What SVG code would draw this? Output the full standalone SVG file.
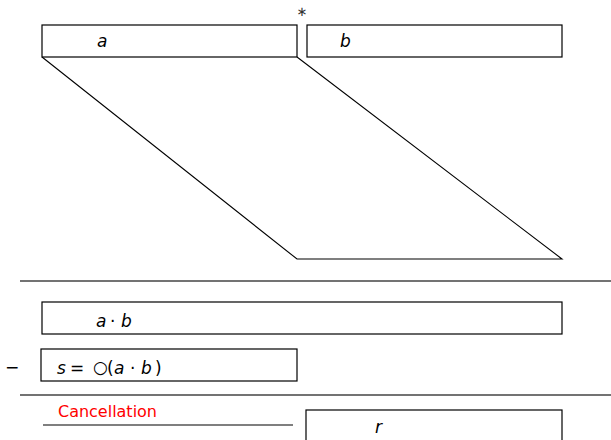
<svg xmlns="http://www.w3.org/2000/svg" width="611" height="440" viewBox="0 0 611 440">
  <style>
    .box { fill: #fff; stroke: #000; stroke-width: 1.2; }
    .wire { fill: none; stroke: #000; stroke-width: 1.1; }
    .rule { stroke: #444; stroke-width: 1.3; }
    .lbl { font-family: "DejaVu Sans", "Liberation Sans", sans-serif; font-size: 17px; font-style: italic; fill: #000; }
    .up { font-family: "DejaVu Sans", "Liberation Sans", sans-serif; font-size: 17px; font-style: normal; fill: #000; }
    .note { font-family: "DejaVu Sans", "Liberation Sans", sans-serif; font-size: 16px; fill: #f00; }
  </style>
  <rect width="611" height="440" fill="#fff"/>

  <!-- partial product parallelogram -->
  <g id="connectors">
    <path class="wire" d="M42 57 L297 259 L562 259 L297 57"/>
  </g>

  <text x="302" y="16" font-family="DejaVu Sans, sans-serif" font-size="13" text-anchor="middle" fill="#333">∗</text>

  <g id="operand-a">
    <rect class="box" x="42" y="25" width="255" height="32"/>
    <text class="lbl" x="97" y="47">a</text>
  </g>
  <g id="operand-b">
    <rect class="box" x="307" y="25" width="255" height="32"/>
    <text class="lbl" x="340" y="47">b</text>
  </g>

  <line class="rule" x1="20" y1="281" x2="611" y2="281"/>

  <g id="product">
    <rect class="box" x="42" y="302" width="520" height="32"/>
    <text class="lbl" y="327"><tspan x="96">a</tspan><tspan class="up" x="110">·</tspan><tspan x="121">b</tspan></text>
  </g>

  <text class="up" x="5" y="373" font-size="19">−</text>
  <g id="rounded">
    <rect class="box" x="41" y="349" width="256" height="32"/>
    <text class="lbl" y="374"><tspan x="57">s</tspan><tspan class="up" x="70" font-size="20">=</tspan><tspan class="up" x="93" font-size="10" dy="-1.5">○</tspan><tspan class="up" x="107" font-size="18" dy="1.5">(</tspan><tspan x="114">a</tspan><tspan class="up" x="130">·</tspan><tspan x="141">b</tspan><tspan class="up" x="155" font-size="18">)</tspan></text>
  </g>

  <line class="rule" x1="20" y1="395" x2="611" y2="395"/>

  <text class="note" x="58" y="417" textLength="99">Cancellation</text>
  <line class="wire" x1="43" y1="425" x2="293" y2="425"/>

  <g id="result">
    <rect class="box" x="306" y="410" width="256" height="40"/>
    <text class="lbl" x="375" y="433">r</text>
  </g>
</svg>
